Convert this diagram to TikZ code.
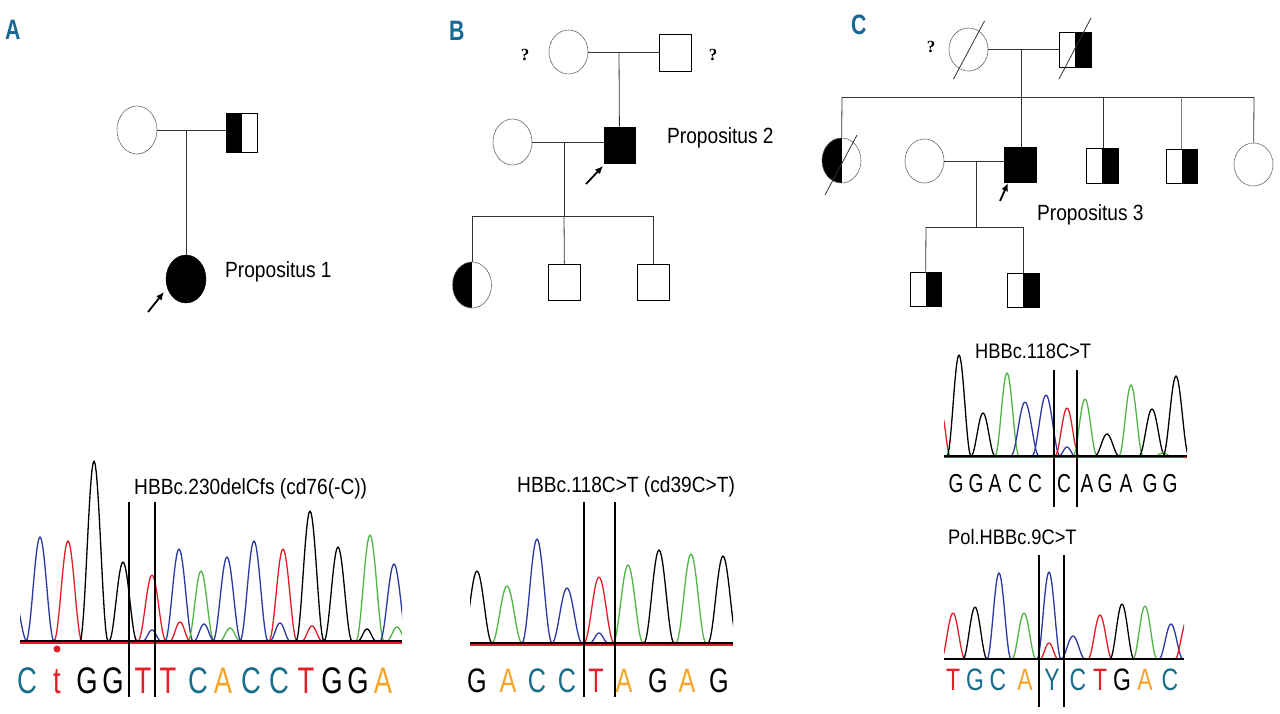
\documentclass[tikz,border=0pt]{standalone}
\usepackage{fontspec}
\setmainfont{Liberation Sans}[FakeStretch=0.87]
\newfontfamily\seqfont{Liberation Sans}[FakeStretch=0.74]
\newfontfamily\panelfont{Liberation Sans}[FakeStretch=0.76]
\newfontfamily\qfont{Liberation Serif}
\usetikzlibrary{shapes.geometric,arrows.meta}
\definecolor{panelblue}{RGB}{22,104,150}
\definecolor{trblue}{RGB}{45,55,160}
\definecolor{trred}{RGB}{225,30,40}
\definecolor{trgreen}{RGB}{80,180,70}
\definecolor{seqC}{RGB}{25,110,140}
\definecolor{seqA}{RGB}{245,165,40}
\definecolor{seqT}{RGB}{230,30,40}
\newcommand\pk[5]{%
  \pgfmathsetmacro\pka{#1-#4}\pgfmathsetmacro\pkb{#1+#4}%
  \draw[#5,trace] plot[domain=\pka:\pkb,samples=25] (\x,{#2-(#2-#3)*cos(90*(\x-#1)/#4)^2});}
\tikzset{
  fem/.style={ellipse, draw=black!65, dash pattern=on 0.9pt off 0.5pt, line width=0.7pt, inner sep=0pt, minimum width=39pt, minimum height=44pt},
  mal/.style={rectangle, draw=black, line width=0.8pt, inner sep=0pt, minimum width=32pt, minimum height=36pt},
  lefthalf/.style={path picture={\fill[black] (path picture bounding box.south west) rectangle (path picture bounding box.north);}},
  righthalf/.style={path picture={\fill[black] (path picture bounding box.south) rectangle (path picture bounding box.north east);}},
  rel/.style={draw=black!80, line width=0.8pt},
  probarrow/.style={line width=1.8pt, -{Latex[length=8pt,width=7pt]}},
  lab/.style={font=\fontsize{22}{24}\selectfont, inner sep=0pt, anchor=base west},
  mutlab/.style={font=\fontsize{22}{24}\selectfont, inner sep=0pt, anchor=base west},
  panel/.style={font=\panelfont\bfseries\fontsize{28}{30}\selectfont, text=panelblue, inner sep=0pt, anchor=base west},
  qm/.style={font=\qfont\bfseries\fontsize{17}{20}\selectfont, inner sep=0pt},
  trace/.style={line width=1.3pt, line join=round},
  marker/.style={line width=1.5pt, black},
  seqa/.style={font=\seqfont\fontsize{37}{40}\selectfont, inner sep=0pt, anchor=base},
  seqb/.style={font=\seqfont\fontsize{34}{36}\selectfont, inner sep=0pt, anchor=base},
  seqc/.style={font=\seqfont\fontsize{26}{28}\selectfont, inner sep=0pt, anchor=base},
  seqd/.style={font=\seqfont\fontsize{31}{33}\selectfont, inner sep=0pt, anchor=base},
}
\begin{document}
\begin{tikzpicture}[x=1pt,y=-1pt]
\useasboundingbox[fill=white] (0,0) rectangle (1280,713);

% ---------------- Panel A pedigree ----------------
\node[panel] (LA) at (5,39) {A};
\node[fem, minimum width=40pt, minimum height=48pt] (a1) at (137,130) {};
\node[mal, lefthalf, minimum width=31pt, minimum height=39pt] (a2) at (241.5,132.5) {};
\node[ellipse, fill=black, draw=black, inner sep=0pt, minimum width=40pt, minimum height=48pt] (a3) at (186,279) {};
\draw[rel] (a1) -- (a1 -| a2.west);
\coordinate (am) at (186,131);
\draw[rel] (am) -- (a3);
\node[lab] (pa) at (225,277) {Propositus 1};
\coordinate (at1) at (148,312);
\coordinate (at2) at (164,292);
\draw[probarrow] (at1) -- (at2);

% ---------------- Panel B pedigree ----------------
\node[panel] (LB) at (449,40) {B};
\node[qm] (q1) at (525,55) {?};
\node[qm] (q2) at (713,55) {?};
\node[fem] (b1) at (568.5,52) {};
\node[mal, minimum height=37pt] (b2) at (675,52.5) {};
\draw[rel] (b1) -- (b1 -| b2.west);
\coordinate (bm1) at (619,52);
\node[mal, fill=black, minimum width=31pt] (b4) at (619.5,145) {};
\draw[rel] (bm1) -- (b4);
\node[fem, minimum height=46pt] (b3) at (512.5,142) {};
\draw[rel] (b3) -- (b3 -| b4.west);
\node[lab] (pb) at (667,143) {Propositus 2};
\coordinate (bt1) at (586,184);
\coordinate (bt2) at (603,166);
\draw[probarrow] (bt1) -- (bt2);
\coordinate (bm2) at (564,142);
\coordinate (bs) at (564,216);
\coordinate (bsl) at (472,216);
\coordinate (bsr) at (653,216);
\draw[rel] (bm2) -- (bs);
\draw[rel] (bsl) -- (bsr);
\node[fem, lefthalf, minimum height=46pt] (b5) at (472,285) {};
\node[mal] (b6) at (564.5,282) {};
\node[mal] (b7) at (653,282) {};
\draw[rel] (bsl) -- (b5);
\draw[rel] (bs) -- (b6);
\draw[rel] (bsr) -- (b7);

% ---------------- Panel C pedigree ----------------
\node[panel] (LC) at (851,34) {C};
\node[qm] (q3) at (931,47) {?};
\node[fem, minimum height=43pt] (c1) at (968.5,49.5) {};
\node[mal, righthalf, minimum height=35pt] (c2) at (1075,49.5) {};
\draw[rel] (c1.center) ++(-15,29.5) -- ++(31,-58);
\draw[rel] (c2.center) ++(-16,29.5) -- ++(32,-61);
\draw[rel] (c1) -- (c1 -| c2.west);
\coordinate (cm1) at (1021,49);
\coordinate (cs1) at (1021,97);
\coordinate (csl) at (842,97);
\coordinate (csr) at (1254,97);
\coordinate (cd1) at (1103,97);
\coordinate (cd2) at (1181,97);
\draw[rel] (cm1) -- (cs1);
\draw[rel] (csl) -- (csr);
\node[fem, lefthalf, minimum height=45pt] (c3) at (841.5,160.5) {};
\draw[rel] (c3.center) ++(-16.5,34.5) -- ++(32,-60);
\node[fem] (c4) at (924.5,161) {};
\node[mal, fill=black, minimum height=35pt] (c5) at (1020,164.5) {};
\node[mal, righthalf, minimum height=35pt] (c6) at (1102,165.5) {};
\node[mal, righthalf, minimum width=31pt, minimum height=34pt] (c7) at (1181.5,166) {};
\node[fem, minimum height=43pt] (c8) at (1253.5,164.5) {};
\draw[rel] (csl) -- (c3);
\draw[rel] (cs1) -- (cs1 |- c5.north);
\draw[rel] (cd1) -- (cd1 |- c6.north);
\draw[rel, draw=black!50] (cd2) -- (cd2 |- c7.north);
\draw[rel] (csr) -- (c8);
\draw[rel] (c4) -- (c4 -| c5.west);
\coordinate (cm2) at (976,162);
\coordinate (cs2) at (976,227);
\coordinate (cgl) at (926,227);
\coordinate (cgr) at (1023,227);
\draw[rel] (cm2) -- (cs2);
\draw[rel] (cgl) -- (cgr);
\node[mal, righthalf, minimum width=31pt, minimum height=34pt] (g1) at (925.5,289) {};
\node[mal, righthalf, minimum height=34pt] (g2) at (1023,290) {};
\draw[rel] (cgl) -- (g1);
\draw[rel] (cgr) -- (g2);
\node[lab] (pc) at (1037,220) {Propositus 3};
\coordinate (ct1) at (1000,201);
\coordinate (ct2) at (1008,183);
\draw[probarrow] (ct1) -- (ct2);

% ---------------- Chromatogram A ----------------
\begin{scope}
\clip (20,440) rectangle (402,650);
\draw[trred, line width=1.3pt] (20,643) -- (402,643);
\pk{13}{641}{592}{14}{trblue}
\pk{40}{641}{537}{14}{trblue}
\pk{68}{641}{541}{14}{trred}
\pk{94}{641}{461}{14}{black}
\pk{123}{641}{562}{14}{black}
\pk{152}{641}{575}{14}{trred}
\pk{179}{641}{549}{14}{trblue}
\pk{201}{641}{571}{13}{trgreen}
\pk{227}{641}{557}{14}{trblue}
\pk{254}{641}{541}{14}{trblue}
\pk{283}{641}{549}{14}{trred}
\pk{310}{641}{511}{14}{black}
\pk{338}{641}{547}{14}{black}
\pk{370}{641}{535}{14}{trgreen}
\pk{394}{641}{564}{14}{trblue}
\pk{152}{641}{630}{9}{trblue}
\pk{180}{641}{622}{10}{trred}
\pk{204}{641}{624}{10}{trblue}
\pk{230}{641}{628}{10}{trgreen}
\pk{280}{641}{623}{10}{trblue}
\pk{312}{641}{626}{10}{trred}
\pk{367}{641}{629}{9}{black}
\pk{397}{641}{627}{10}{trgreen}
\draw[black, line width=1.5pt] (20,641) -- (402,641);
\end{scope}
\fill[trred] (57,649) circle (3.5);
\draw[marker] (129,502) -- (129,697);
\draw[marker] (155,502) -- (155,697);
\node[mutlab] (ma) at (134,494) {HBBc.230delCfs (cd76(-C))};
\foreach \x/\l/\c [count=\i] in {27/C/seqC,57/t/seqT,87/G/black,113/G/black,143/T/seqT,168/T/seqT,198/C/seqC,223/A/seqA,251/C/seqC,279/C/seqC,306/T/seqT,332/G/black,358/G/black,383/A/seqA}
  \node[seqa, text=\c] (sa\i) at (\x,693) {\l};

% ---------------- Chromatogram B ----------------
\begin{scope}
\clip (470,440) rectangle (733,650);
\draw[trred, line width=1.3pt] (470,645) -- (733,645);
\pk{477}{643}{571}{15}{black}
\pk{507}{643}{586}{15}{trgreen}
\pk{537}{643}{539}{15}{trblue}
\pk{567}{643}{588}{15}{trblue}
\pk{599}{643}{577}{15}{trred}
\pk{599}{643}{633}{9}{trblue}
\pk{628}{643}{565}{15}{trgreen}
\pk{659}{643}{550}{15}{black}
\pk{691}{643}{554}{15}{trgreen}
\pk{723}{643}{556}{15}{black}
\draw[black, line width=1.5pt] (470,643) -- (733,643);
\end{scope}
\draw[marker] (584,502) -- (584,697);
\draw[marker] (615,502) -- (615,697);
\node[mutlab] (mb) at (517,492) {HBBc.118C>T (cd39C>T)};
\foreach \x/\l/\c [count=\i] in {477/G/black,508/A/seqA,537/C/seqC,567/C/seqC,596/T/seqT,624/A/seqA,658/G/black,687/A/seqA,719/G/black}
  \node[seqb, text=\c] (sb\i) at (\x,692) {\l};

% ---------------- Chromatogram C1 ----------------
\begin{scope}
\clip (944,340) rectangle (1187,460);
\draw[trred, line width=1pt] (944,457) -- (1187,457);
\pk{942}{456}{416}{8}{trred}
\pk{959}{456}{355}{12}{black}
\pk{983}{456}{413}{12}{black}
\pk{1007}{456}{373}{12}{trgreen}
\pk{1025}{456}{402}{14}{trblue}
\pk{1046}{456}{395}{14}{trblue}
\pk{1067}{456}{408}{12}{trred}
\pk{1067}{456}{447}{8}{trblue}
\pk{1085}{456}{399}{12}{trgreen}
\pk{1107}{456}{434}{12}{black}
\pk{1131}{456}{385}{12}{trgreen}
\pk{1152}{456}{409}{13}{black}
\pk{1163}{456}{453}{8}{trgreen}
\pk{1176}{456}{376}{13}{black}
\draw[black, line width=1.2pt] (944,456) -- (1187,456);
\end{scope}
\draw[marker] (1054,370) -- (1054,507);
\draw[marker] (1077,370) -- (1077,507);
\node[mutlab, font=\fontsize{21}{23}\selectfont] (mc1) at (975,358) {HBBc.118C>T};
\foreach \x/\l [count=\i] in {956/G,976/G,995/A,1015/C,1035/C,1064/C,1087/A,1105/G,1126/A,1150/G,1170/G}
  \node[seqc] (sc\i) at (\x,492) {\l};

% ---------------- Chromatogram C2 ----------------
\begin{scope}
\clip (944,540) rectangle (1184,663);
\pk{953}{659}{613}{12}{trred}
\pk{975}{659}{607}{12}{black}
\pk{999}{659}{573}{12}{trblue}
\pk{1024}{659}{613}{12}{trgreen}
\pk{1049}{659}{572}{12}{trblue}
\pk{1049}{659}{643}{9}{trred}
\pk{1073}{659}{636}{12}{trblue}
\pk{1100}{659}{615}{12}{trred}
\pk{1122}{659}{604}{12}{black}
\pk{1145}{659}{606}{12}{trgreen}
\pk{1171}{659}{624}{12}{trblue}
\pk{1187}{659}{620}{12}{trred}
\draw[black, line width=2pt] (944,659) -- (1184,659);
\end{scope}
\draw[marker] (1039,555) -- (1039,707);
\draw[marker] (1064,555) -- (1064,707);
\node[mutlab, font=\fontsize{21}{23}\selectfont] (mc2) at (948,544) {Pol.HBBc.9C>T};
\foreach \x/\l/\c [count=\i] in {953/T/seqT,975/G/seqC,998/C/seqC,1025/A/seqA,1052/Y/seqC,1078/C/seqC,1100/T/seqT,1122/G/black,1145/A/seqA,1170/C/seqC}
  \node[seqd, text=\c] (sd\i) at (\x,690) {\l};
\end{tikzpicture}
\end{document}
